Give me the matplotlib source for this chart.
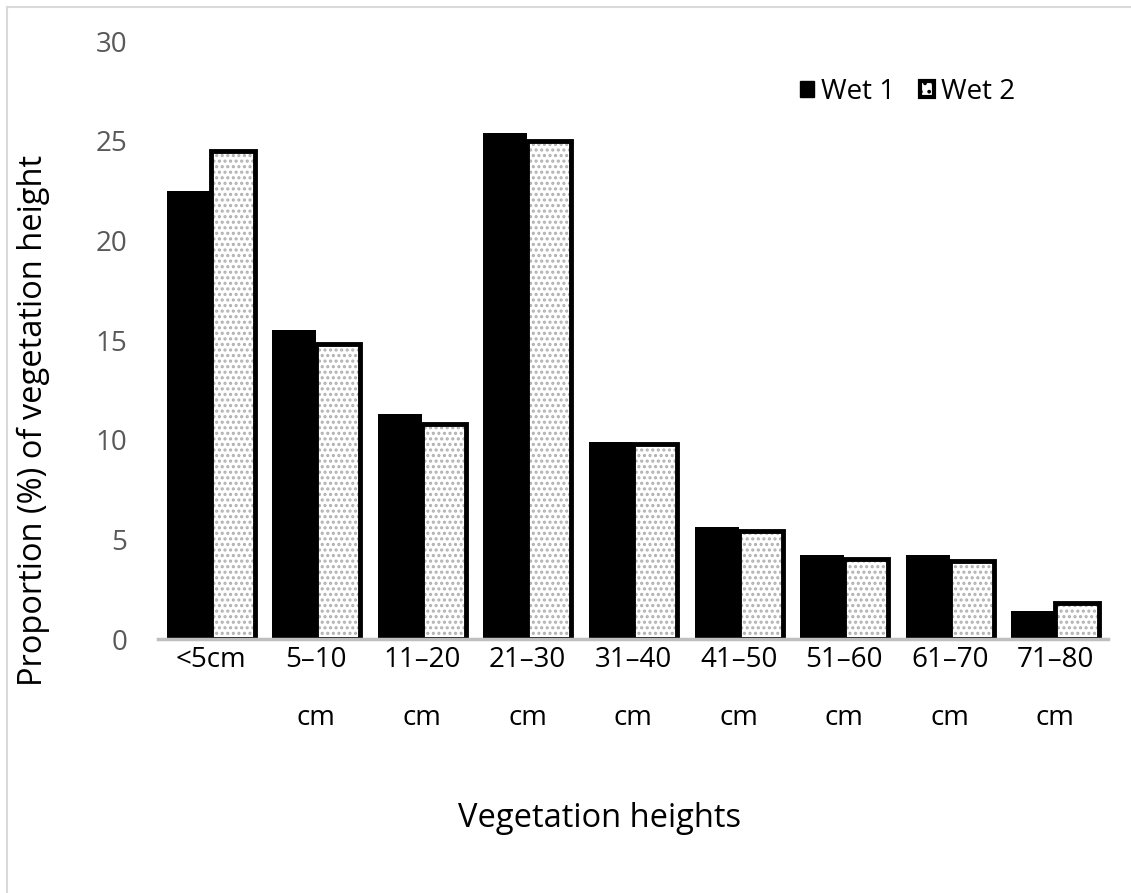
import numpy as np
import matplotlib.pyplot as plt
from matplotlib.lines import Line2D
from matplotlib.patches import Patch

plt.rcParams['font.family'] = ['Open Sans', 'DejaVu Sans']
plt.rcParams['hatch.color'] = '#b0b0b0'
plt.rcParams['hatch.linewidth'] = 1.5

categories = ['<5cm', '5–10\ncm', '11–20\ncm', '21–30\ncm', '31–40\ncm',
              '41–50\ncm', '51–60\ncm', '61–70\ncm', '71–80\ncm']
wet1 = [22.5, 15.5, 11.3, 25.4, 9.9, 5.6, 4.2, 4.2, 1.4]
wet2 = [24.5, 14.8, 10.8, 25.0, 9.8, 5.4, 4.0, 3.9, 1.8]

fig = plt.figure(figsize=(11.31, 8.93), dpi=100)
ax = fig.add_axes([0.1397, 0.2844, 0.840, 0.6696])

x = np.arange(len(categories))
w = 0.417

ax.bar(x - w / 2, wet1, w, color='black', edgecolor='black', linewidth=0, zorder=2)
# dotted fill, then a thick black outline on top
ax.bar(x + w / 2, wet2, w, color='white', hatch='...', edgecolor='#b0b0b0',
       linewidth=0, zorder=2)
ax.bar(x + w / 2, wet2, w, fill=False, edgecolor='black', linewidth=3.5, zorder=3)

ax.set_xlim(-0.5, len(categories) - 0.5)
ax.set_ylim(0, 30)
ax.set_yticks(range(0, 31, 5))
ax.set_xticks(x)
ax.set_xticklabels(categories, fontsize=20, linespacing=2.45, va='top')
ax.tick_params(axis='y', colors='#595959', labelsize=20, length=0, pad=22)
ax.tick_params(axis='x', length=0, pad=5, labelcolor='black')

for s in ['top', 'right', 'left']:
    ax.spines[s].set_visible(False)
ax.spines['bottom'].set_color('#bfbfbf')
ax.spines['bottom'].set_linewidth(2.5)
ax.spines['bottom'].set_zorder(4)

ax.set_ylabel('Proportion (%) of vegetation height', fontsize=23.5)
ax.yaxis.set_label_coords(-0.114, 0.366)
ax.set_xlabel('Vegetation heights', fontsize=23.5)
ax.xaxis.set_label_coords(0.465, -0.272)

handles = [Patch(facecolor='black', edgecolor='black'),
           Patch(facecolor='white', edgecolor='black', hatch='..', linewidth=3)]
ax.legend(handles, ['Wet 1', 'Wet 2'], loc='center right', bbox_to_anchor=(0.902, 0.915),
          ncol=2, frameon=False, fontsize=20, handlelength=0.5, handleheight=0.5,
          handletextpad=0.25, columnspacing=0.9, borderpad=0, borderaxespad=0)

# light frame along the left and top of the figure
fig.add_artist(Line2D([0.0065, 0.0065], [0, 0.992], color='#d9d9d9', lw=1.5))
fig.add_artist(Line2D([0.0065, 1], [0.992, 0.992], color='#d9d9d9', lw=1.5))

fig.savefig('out.png', dpi=100)
